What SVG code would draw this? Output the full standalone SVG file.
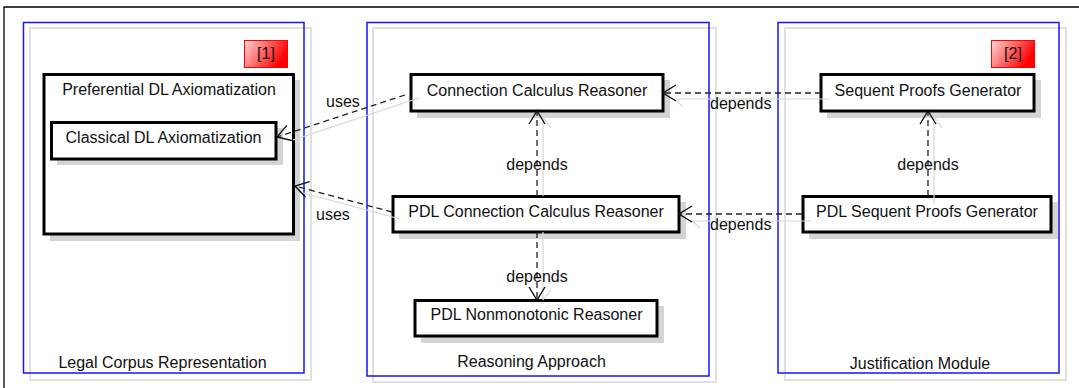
<svg xmlns="http://www.w3.org/2000/svg" width="1079" height="388" viewBox="0 0 1079 388">
<style>
text{font-family:"Liberation Sans",Arial,sans-serif;font-size:16px;fill:#111}
.c{text-anchor:middle}
.node{fill:#fff;stroke:#000;stroke-width:3}
.shadow{fill:#d4d4d4}
.blue{fill:none;stroke:#1515ff;stroke-width:1.5}
.gray{fill:none;stroke:#e0e0e0;stroke-width:2}
.dash{fill:none;stroke:#222;stroke-width:1.3;stroke-dasharray:6 4}
.ghost{fill:none;stroke:#d6d6d6;stroke-width:1.2}
.badge{fill:url(#red);stroke:#f00;stroke-width:1}
</style>
<defs>
<linearGradient id="red" x1="0" y1="0" x2="1" y2="0.4">
<stop offset="0" stop-color="#ffd6d6"/>
<stop offset="1" stop-color="#f00"/>
</linearGradient>
<marker id="arr" viewBox="0 0 16 18" refX="15" refY="9" markerWidth="16" markerHeight="18" markerUnits="userSpaceOnUse" orient="auto">
<path d="M2,1 L15,9 L2,17" fill="none" stroke="#111" stroke-width="1.4"/>
</marker>
</defs>
<rect width="1079" height="388" fill="#fff"/>
<path d="M4,388 V7 H1079" fill="none" stroke="#000" stroke-width="1.3"/>

<g id="group-legal">
<rect class="gray" x="30" y="28" width="281" height="352"/>
<rect class="blue" x="23.5" y="22.5" width="280.5" height="350.5"/>
<text class="c" x="162.5" y="368">Legal Corpus Representation</text>
<rect class="badge" x="244.5" y="40.5" width="43" height="27"/>
<text class="c" x="266" y="59">[1]</text>
</g>
<g id="group-reasoning">
<rect class="gray" x="373" y="28" width="343" height="354"/>
<rect class="blue" x="367" y="22.5" width="342" height="353.5"/>
<text class="c" x="531.5" y="367">Reasoning Approach</text>
</g>
<g id="group-justification">
<rect class="gray" x="785" y="28" width="281" height="352"/>
<rect class="blue" x="778" y="22.5" width="281" height="350.5"/>
<text class="c" x="920" y="369">Justification Module</text>
<rect class="badge" x="991.5" y="40.5" width="43" height="27"/>
<text class="c" x="1013" y="59">[2]</text>
</g>

<g id="node-preferential">
<rect class="shadow" x="50" y="80" width="250" height="161"/>
<rect class="node" x="44" y="74.5" width="249.5" height="159.5"/>
<text class="c" x="169" y="95">Preferential DL Axiomatization</text>
</g>
<g id="node-classical">
<rect class="shadow" x="57" y="128" width="226" height="37"/>
<rect class="node" x="51.5" y="122.5" width="224.5" height="36.5"/>
<text class="c" x="163.5" y="143">Classical DL Axiomatization</text>
</g>
<g id="node-ccr">
<rect class="shadow" x="417" y="80" width="253" height="38"/>
<rect class="node" x="411" y="74.5" width="252" height="36.5"/>
<text class="c" x="537" y="96">Connection Calculus Reasoner</text>
</g>
<g id="node-pdlccr">
<rect class="shadow" x="399" y="202" width="287" height="37"/>
<rect class="node" x="393" y="196.5" width="286" height="35.5"/>
<text class="c" x="536" y="217">PDL Connection Calculus Reasoner</text>
</g>
<g id="node-pdlnr">
<rect class="shadow" x="421" y="306" width="243" height="37"/>
<rect class="node" x="415" y="300.5" width="242" height="35.5"/>
<text class="c" x="536.5" y="320">PDL Nonmonotonic Reasoner</text>
</g>
<g id="node-spg">
<rect class="shadow" x="827" y="80" width="214" height="38"/>
<rect class="node" x="821" y="74.5" width="213" height="36.5"/>
<text class="c" x="928" y="96">Sequent Proofs Generator</text>
</g>
<g id="node-pdlspg">
<rect class="shadow" x="809" y="202" width="249" height="37"/>
<rect class="node" x="803" y="196.5" width="248" height="35.5"/>
<text class="c" x="927" y="217">PDL Sequent Proofs Generator</text>
</g>

<g id="connectors">
<path class="ghost" d="M293,140 L419,98"/>
<path class="ghost" d="M300,192 L400,219"/>
<path class="ghost" d="M676,100 L683,107 M675,99 H829"/>
<path class="ghost" d="M690,221 H811 M692,221 L700,228"/>
<path class="ghost" d="M543,117 V196 M543,117 L551,128"/>
<path class="ghost" d="M543,232 V300 M543,300 L551,290"/>
<path class="ghost" d="M934,117 V204 M934,117 L942,128"/>

<path class="dash" d="M405,95 L277,137" marker-end="url(#arr)"/>
<path class="dash" d="M392,212 L295,186" marker-end="url(#arr)"/>
<path class="dash" d="M821,93 H663" marker-end="url(#arr)"/>
<path class="dash" d="M802,214 H679" marker-end="url(#arr)"/>
<path class="dash" d="M537,196 V111" marker-end="url(#arr)"/>
<path class="dash" d="M537,232 V300" marker-end="url(#arr)"/>
<path class="dash" d="M928,196 V111" marker-end="url(#arr)"/>

<text x="326" y="107">uses</text>
<text x="316" y="220">uses</text>
<text x="710" y="109">depends</text>
<text x="710" y="230">depends</text>
<text class="c" x="537" y="170">depends</text>
<text class="c" x="537" y="282">depends</text>
<text class="c" x="928" y="170">depends</text>
</g>
</svg>
